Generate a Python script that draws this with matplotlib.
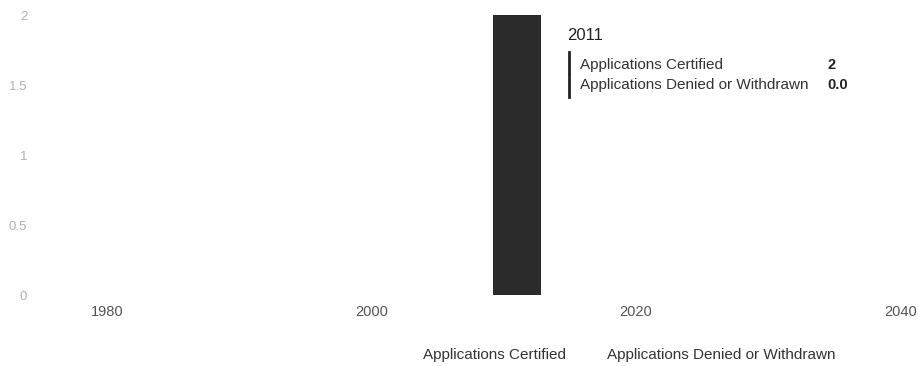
import matplotlib
matplotlib.use("Agg")
import matplotlib.pyplot as plt

plt.rcParams['font.family'] = ['Liberation Sans', 'DejaVu Sans']

years = [2011]
certified = [2]
denied = [0.0]
series_names = ["Applications Certified", "Applications Denied or Withdrawn"]
x_ticks = [1980, 2000, 2020, 2040]
y_ticks = [0, 0.5, 1, 1.5, 2]
y_tick_labels = ["0", "0.5", "1", "1.5", "2"]

W, H = 918, 366
fig = plt.figure(figsize=(W / 100, H / 100), dpi=100)
left_px, right_px, top_px, bottom_px = 30, 918, 15, 295
ax = fig.add_axes([left_px / W, 1 - bottom_px / H, (right_px - left_px) / W, (bottom_px - top_px) / H])

ax.bar(years, certified, width=3.63, color="#2b2b2b", align="center")
ax.bar(years, denied, width=3.63, bottom=certified, color="#6e6e6e", align="center")

ax.set_xlim(1974.16, 2041.32)
ax.set_ylim(0, 2)
for s in ax.spines.values():
    s.set_visible(False)
ax.set_xticks(x_ticks)
ax.set_xticklabels([str(t) for t in x_ticks], fontsize=10.5, color="#555555")
ax.set_yticks(y_ticks)
ax.set_yticklabels(y_tick_labels, fontsize=9.5, color="#b0b0b0")
ax.tick_params(axis="x", length=0, pad=7.5)
ax.tick_params(axis="y", length=0, pad=2)

# tooltip
fig.text(567 / W, 1 - 35 / H, str(years[0]), fontsize=12, color="#222222", va="center", ha="left")
fig.add_artist(plt.Line2D([569 / W, 569 / W], [1 - 52 / H, 1 - 73 / H], color="#222222", lw=2))
fig.add_artist(plt.Line2D([569 / W, 569 / W], [1 - 75 / H, 1 - 97 / H], color="#222222", lw=2))
fig.text(580 / W, 1 - 65 / H, series_names[0], fontsize=11, color="#333333", va="center", ha="left")
fig.text(580 / W, 1 - 85 / H, series_names[1], fontsize=11, color="#333333", va="center", ha="left")
fig.text(827 / W, 1 - 65 / H, f"{certified[0]}", fontsize=10.5, color="#222222", va="center", ha="left", fontweight="bold")
fig.text(827 / W, 1 - 85 / H, f"{denied[0]:.1f}", fontsize=10.5, color="#222222", va="center", ha="left", fontweight="bold")

# legend
fig.text(423 / W, 1 - 355 / H, series_names[0], fontsize=11, color="#333333", va="center", ha="left")
fig.text(607 / W, 1 - 355 / H, series_names[1], fontsize=11, color="#333333", va="center", ha="left")

fig.savefig("out.png", dpi=100, facecolor="white")
